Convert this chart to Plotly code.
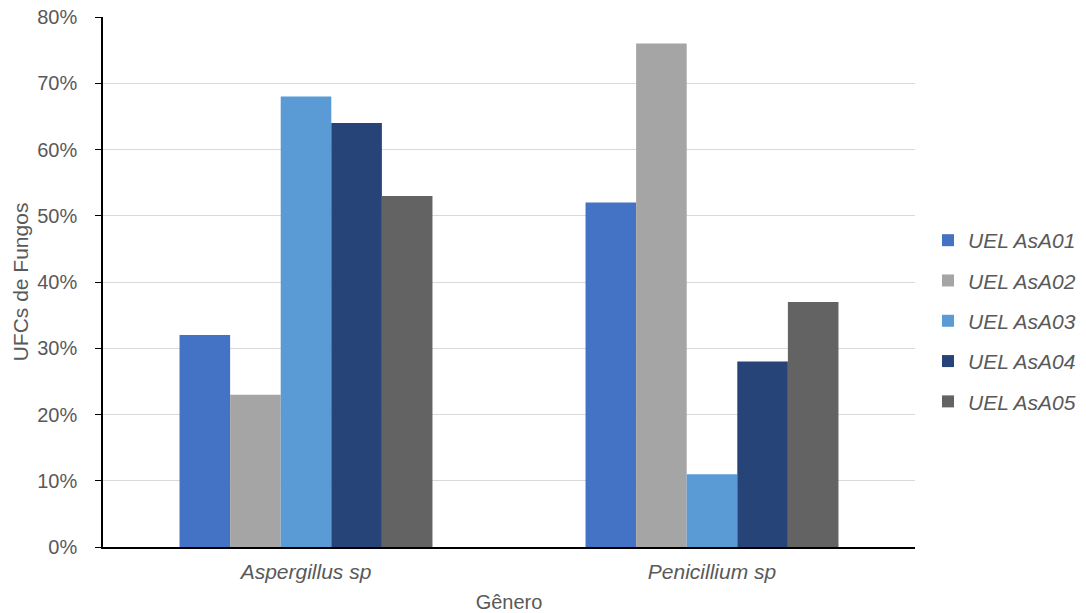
import plotly.graph_objects as go

generos = ["Aspergillus sp", "Penicillium sp"]
isolados = ["UEL AsA01", "UEL AsA02", "UEL AsA03", "UEL AsA04", "UEL AsA05"]
asa01 = [0.32, 0.52]
asa02 = [0.23, 0.76]
asa03 = [0.68, 0.11]
asa04 = [0.64, 0.28]
asa05 = [0.53, 0.37]
cores = ["#4472C4", "#A5A5A5", "#5B9BD5", "#264478", "#636363"]

series = [asa01, asa02, asa03, asa04, asa05]

fig = go.Figure()
for nome, valores, cor in zip(isolados, series, cores):
    fig.add_trace(go.Bar(
        x=generos, y=valores, name=nome, marker_color=cor,
        marker_line_width=0, legendgroup=nome,
    ))

arial = "Liberation Sans, Arial, sans-serif"
cinza = "#595959"
fig.update_layout(
    barmode="group",
    bargap=0.377,
    bargroupgap=0,
    width=1086, height=613,
    margin=dict(l=103, r=171, t=17, b=66),
    plot_bgcolor="white",
    paper_bgcolor="white",
    font=dict(family=arial, size=20, color=cinza),
    legend=dict(
        xref="container", yref="container",
        x=0.8545, y=0.4763, xanchor="left", yanchor="middle",
        font=dict(family=arial, size=21, color=cinza, style="italic"),
        tracegroupgap=10,
        itemwidth=30,
    ),
    xaxis=dict(
        automargin=False,
        showline=True, linecolor="black", linewidth=1.5,
        ticks="", ticklabelstandoff=5,
        tickfont=dict(family=arial, size=21, style="italic", color=cinza),
        title=dict(text="Gênero", font=dict(family=arial, size=20, color=cinza), standoff=15),
    ),
    yaxis=dict(
        automargin=False,
        range=[0, 0.8], dtick=0.1, tickformat=".0%",
        showline=True, linecolor="black", linewidth=1.5,
        ticks="outside", ticklen=6, tickcolor="black",
        ticklabelstandoff=14,
        showgrid=True, gridcolor="#D9D9D9", gridwidth=1,
        zeroline=False,
        tickfont=dict(family=arial, size=20, color=cinza),
        title=dict(text="UFCs de Fungos", font=dict(family=arial, size=21, color=cinza), standoff=3),
    ),
)

fig.write_html("out.html")
